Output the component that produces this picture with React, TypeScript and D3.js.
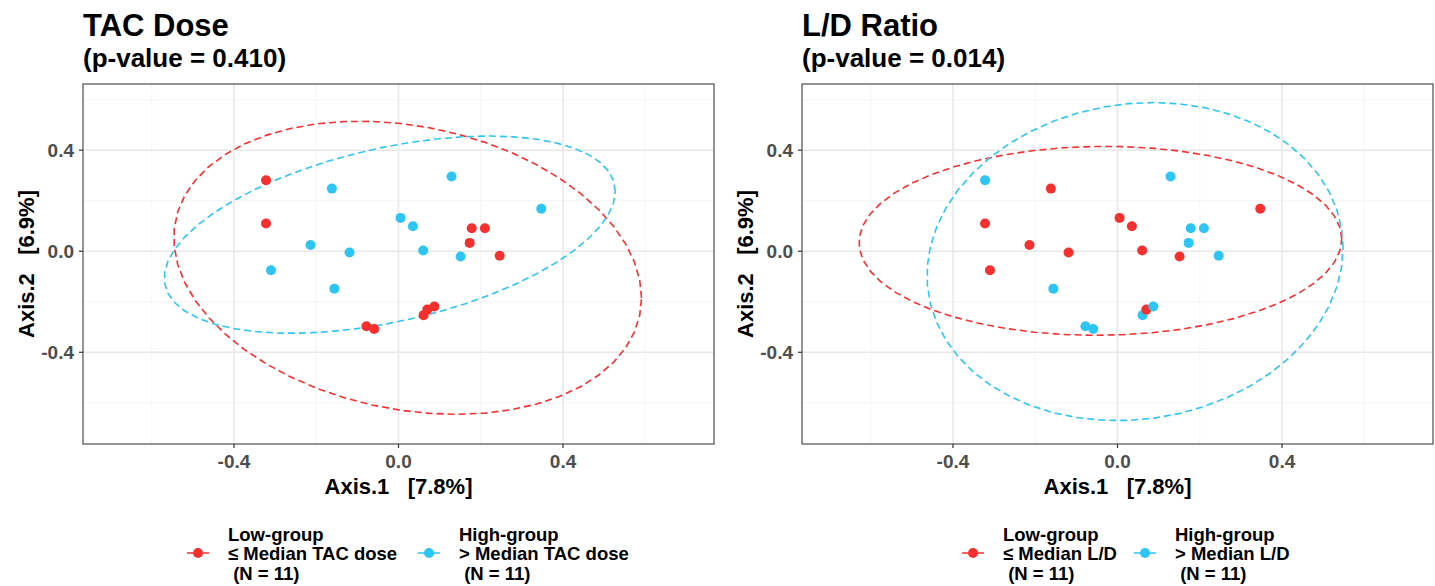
import * as React from "react";
import * as d3 from "d3";

// ordination coordinates of the 22 samples
const axis1 = [-0.322, -0.322, 0.178, 0.21, 0.173, 0.246, -0.078, -0.059, 0.061, 0.07, 0.087,
  -0.162, 0.129, 0.347, 0.005, 0.035, -0.214, -0.119, 0.06, 0.151, -0.31, -0.156];
const axis2 = [0.281, 0.11, 0.091, 0.091, 0.033, -0.018, -0.297, -0.308, -0.253, -0.231, -0.219,
  0.248, 0.296, 0.168, 0.132, 0.099, 0.025, -0.005, 0.003, -0.021, -0.075, -0.148];
const tacGroup = ["Low", "Low", "Low", "Low", "Low", "Low", "Low", "Low", "Low", "Low", "Low",
  "High", "High", "High", "High", "High", "High", "High", "High", "High", "High", "High"];
const ldGroup = ["High", "Low", "High", "High", "High", "High", "High", "High", "High", "Low", "High",
  "Low", "High", "Low", "Low", "Low", "Low", "Low", "Low", "Low", "Low", "High"];

const xTicks = [-0.4, 0.0, 0.4];
const yTicks = [-0.4, 0.0, 0.4];
const xMinor = [-0.6, -0.2, 0.2, 0.6];
const yMinor = [-0.6, -0.2, 0.2, 0.6];

const panels = [
  { title: "TAC Dose", pvalue: "(p-value = 0.410)", groups: tacGroup, lowLab: "≤ Median TAC dose", highLab: "> Median TAC dose" },
  { title: "L/D Ratio", pvalue: "(p-value = 0.014)", groups: ldGroup, lowLab: "≤ Median L/D", highLab: "> Median L/D" },
];

const colors: any = { Low: "#F5302F", High: "#2DC5F4" };
const FONT = "'Liberation Sans', Arial, Helvetica, sans-serif";

// stat_ellipse(type = "norm", level = 0.95)
function ellipse(pts: number[][], level = 0.95, segments = 51) {
  const n = pts.length;
  const mx = d3.mean(pts, (d) => d[0])!;
  const my = d3.mean(pts, (d) => d[1])!;
  const s11 = d3.sum(pts, (d) => (d[0] - mx) ** 2) / (n - 1);
  const s12 = d3.sum(pts, (d) => (d[0] - mx) * (d[1] - my)) / (n - 1);
  const s22 = d3.sum(pts, (d) => (d[1] - my) ** 2) / (n - 1);
  const dfd = n - 1;
  const qf = (dfd / 2) * (Math.pow(1 - level, -2 / dfd) - 1);
  const radius = Math.sqrt(2 * qf);
  const a = Math.sqrt(s11);
  const b = s12 / a;
  const c = Math.sqrt(s22 - b * b);
  return d3.range(segments + 1).map((k) => {
    const t = (k * 2 * Math.PI) / segments;
    return [mx + radius * Math.cos(t) * a, my + radius * (Math.cos(t) * b + Math.sin(t) * c)];
  });
}

function Panel({ cfg, left }: { cfg: any; left: number }) {
  const top = 84, width = 631, height = 360;
  const x = d3.scaleLinear().domain([-0.767, 0.767]).range([left, left + width]);
  const y = d3.scaleLinear().domain([-0.763, 0.662]).range([top + height, top]);
  const line = d3.line<number[]>().x((d) => x(d[0])).y((d) => y(d[1]));
  const idx = d3.range(axis1.length);
  const cx = left + width / 2;
  const cy = top + height / 2;
  const legX = left === 83 ? 198 : 973;
  const legGap = left === 83 ? 231 : 172;
  const fmt = (v: number) => d3.format(".1f")(v).replace("−", "-");
  return (
    <g>
      <text x={left} y={36} fontFamily={FONT} fontWeight="bold" fontSize={31}>{cfg.title}</text>
      <text x={left} y={67} fontFamily={FONT} fontWeight="bold" fontSize={26}>{cfg.pvalue}</text>
      <rect x={left} y={top} width={width} height={height} fill="#fff" />
      {xMinor.map((v) => <line key={"xm" + v} x1={x(v)} x2={x(v)} y1={top} y2={top + height} stroke="#F2F2F2" strokeWidth={0.8} />)}
      {yMinor.map((v) => <line key={"ym" + v} y1={y(v)} y2={y(v)} x1={left} x2={left + width} stroke="#F2F2F2" strokeWidth={0.8} />)}
      {xTicks.map((v) => <line key={"xg" + v} x1={x(v)} x2={x(v)} y1={top} y2={top + height} stroke="#E8E8E8" strokeWidth={1.5} />)}
      {yTicks.map((v) => <line key={"yg" + v} y1={y(v)} y2={y(v)} x1={left} x2={left + width} stroke="#E8E8E8" strokeWidth={1.5} />)}
      {["Low", "High"].map((g) => (
        <path key={"e" + g} d={line(ellipse(idx.filter((i) => cfg.groups[i] === g).map((i) => [axis1[i], axis2[i]])))!}
          fill="none" stroke={colors[g]} strokeWidth={1.6} strokeDasharray="7,4" />
      ))}
      {idx.map((i) => <circle key={i} cx={x(axis1[i])} cy={y(axis2[i])} r={5} fill={colors[cfg.groups[i]]} />)}
      <rect x={left} y={top} width={width} height={height} fill="none" stroke="#4D4D4D" strokeWidth={1.2} />
      {xTicks.map((v) => (
        <g key={"xt" + v}>
          <line x1={x(v)} x2={x(v)} y1={top + height} y2={top + height + 4} stroke="#333" strokeWidth={1.2} />
          <text x={x(v)} y={top + height + 24} textAnchor="middle" fontFamily={FONT} fontWeight="bold" fontSize={19} fill="#4D4D4D">{fmt(v)}</text>
        </g>
      ))}
      {yTicks.map((v) => (
        <g key={"yt" + v}>
          <line x1={left - 4} x2={left} y1={y(v)} y2={y(v)} stroke="#333" strokeWidth={1.2} />
          <text x={left - 9} y={y(v) + 7} textAnchor="end" fontFamily={FONT} fontWeight="bold" fontSize={19} fill="#4D4D4D">{fmt(v)}</text>
        </g>
      ))}
      <text x={cx} y={494} textAnchor="middle" fontFamily={FONT} fontWeight="bold" fontSize={22} xmlSpace="preserve">{"Axis.1   [7.8%]"}</text>
      <text transform={`translate(${left - 49},${cy}) rotate(-90)`} textAnchor="middle" fontFamily={FONT} fontWeight="bold" fontSize={22} xmlSpace="preserve">{"Axis.2   [6.9%]"}</text>
      {[["Low", "Low-group", cfg.lowLab], ["High", "High-group", cfg.highLab]].map(([g, l1, l2], k) => {
        const kx = legX + k * legGap;
        return (
          <g key={"leg" + g} fontFamily={FONT} fontWeight="bold" fontSize={18.5}>
            <line x1={kx - 11} x2={kx + 11} y1={553} y2={553} stroke={colors[g]} strokeWidth={1.5} />
            <circle cx={kx} cy={553} r={5} fill={colors[g]} />
            <text x={kx + 30} y={541} xmlSpace="preserve">{l1}</text>
            <text x={kx + 30} y={560} xmlSpace="preserve">{l2}</text>
            <text x={kx + 30} y={580} xmlSpace="preserve">{" (N = 11)"}</text>
          </g>
        );
      })}
    </g>
  );
}

export default function App() {
  return (
    <svg width={1435} height={586} style={{ position: "absolute", left: 0, top: 0, background: "#fff" }}>
      <rect width={1435} height={586} fill="#fff" />
      <Panel cfg={panels[0]} left={83} />
      <Panel cfg={panels[1]} left={802} />
    </svg>
  );
}
